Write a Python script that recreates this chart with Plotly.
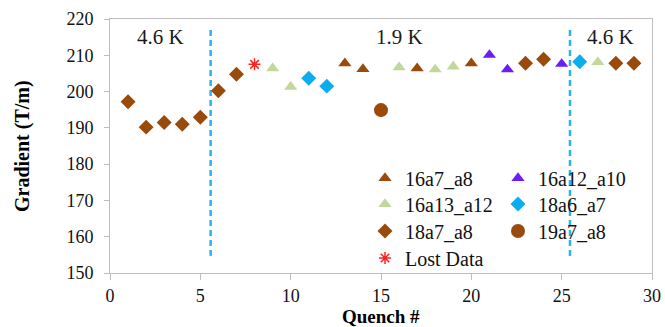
import plotly.graph_objects as go

# ---- data ----
s16a7_a8_x = [13, 14, 17, 20]
s16a7_a8_y = [207.8, 206.2, 206.4, 207.8]
s16a12_a10_x = [21, 22, 25]
s16a12_a10_y = [210.1, 206.1, 207.6]
s16a13_a12_x = [9, 10, 16, 18, 19, 27]
s16a13_a12_y = [206.4, 201.3, 206.7, 206.1, 206.9, 208.1]
s18a6_a7_x = [11, 12, 26]
s18a6_a7_y = [203.7, 201.5, 208.2]
s18a7_a8_x = [1, 2, 3, 4, 5, 6, 7, 23, 24, 28, 29]
s18a7_a8_y = [197.2, 190.2, 191.5, 191.0, 192.9, 200.2, 204.8, 207.8, 208.9, 207.8, 207.8]
s19a7_a8_x = [15]
s19a7_a8_y = [194.9]
lost_x = [8]
lost_y = [207.5]

divider_x = [5.57, 25.46]
divider_y = [217.0, 154.7]
temp_labels = ["4.6 K", "1.9 K", "4.6 K"]
temp_label_x = [2.82, 16.0, 27.7]
temp_label_y = 215.0

x_ticks = [0, 5, 10, 15, 20, 25, 30]
y_ticks = [150, 160, 170, 180, 190, 200, 210, 220]

BROWN = "#9A4A0A"
PURPLE = "#6B1CF7"
GREEN = "#C3D69B"
CYAN = "#0AAEEE"
RED = "#FF2020"
DASH = "#2AB4EE"
SERIF = "Liberation Serif"

W, H = 665, 327
ML, MR, MT, MB = 110, 13, 19, 54
PW, PH = W - ML - MR, H - MT - MB


def px_x(p):
    return (p - ML) / PW


def px_y(p):
    return (H - MB - p) / PH


fig = go.Figure()

for xv in divider_x:
    fig.add_trace(go.Scatter(x=[xv, xv], y=divider_y, mode="lines",
                             line=dict(color=DASH, width=2.5, dash="6px,4px"),
                             showlegend=False, hoverinfo="skip"))

legend_font = dict(family=SERIF, size=20, color="#111")
legend_layouts = {}


def add(name, xs, ys, symbol, color, size, legend, lx, ly, line=None):
    m = dict(symbol=symbol, color=color, size=size)
    if line:
        m["line"] = line
    fig.add_trace(go.Scatter(x=xs, y=ys, mode="markers", name=name,
                             marker=m, legend=legend))
    legend_layouts[legend] = dict(x=px_x(lx), y=px_y(ly), xanchor="left", yanchor="middle",
                                  font=legend_font, bgcolor="rgba(0,0,0,0)",
                                  itemwidth=30)


C1, C2 = 365, 498
R = [178, 204, 231, 258]
add("16a7_a8", s16a7_a8_x, s16a7_a8_y, "triangle-up", BROWN, 11.5, "legend", C1, R[0])
add("16a13_a12", s16a13_a12_x, s16a13_a12_y, "triangle-up", GREEN, 11.5, "legend2", C1, R[1])
add("18a7_a8", s18a7_a8_x, s18a7_a8_y, "diamond", BROWN, 11.5, "legend3", C1, R[2])
add("Lost Data", lost_x, lost_y, "asterisk-open", RED, 10, "legend4", C1, R[3],
    line=dict(color=RED, width=1.5))
add("16a12_a10", s16a12_a10_x, s16a12_a10_y, "triangle-up", PURPLE, 11.5, "legend5", C2, R[0])
add("18a6_a7", s18a6_a7_x, s18a6_a7_y, "diamond", CYAN, 11.5, "legend6", C2, R[1])
add("19a7_a8", s19a7_a8_x, s19a7_a8_y, "circle", BROWN, 14, "legend7", C2, R[2])

for t, xv in zip(temp_labels, temp_label_x):
    fig.add_annotation(x=xv, y=temp_label_y, text=t, showarrow=False,
                       font=dict(family=SERIF, size=21, color="#1a1a1a"),
                       xref="x", yref="y", xanchor="center", yanchor="middle")

# axis titles
fig.add_annotation(x=px_x(22), y=px_y(146), xref="paper", yref="paper",
                   text="<b>Gradient (T/m)</b>", textangle=-90, showarrow=False,
                   xanchor="center", yanchor="middle",
                   font=dict(family=SERIF, size=20, color="#000"))
fig.add_annotation(x=px_x(381), y=px_y(316), xref="paper", yref="paper",
                   text="<b>Quench #</b>", showarrow=False,
                   xanchor="center", yanchor="middle",
                   font=dict(family=SERIF, size=19, color="#000"))

axis_common = dict(showline=True, mirror=True, linecolor="#BFBFBF", linewidth=1,
                   showgrid=False, zeroline=False, ticks="outside", tickcolor="#BFBFBF",
                   automargin=False,
                   tickfont=dict(family=SERIF, size=18, color="#111"))

fig.update_xaxes(range=[0, 30], tickvals=x_ticks, ticklen=6, **axis_common)
fig.update_yaxes(range=[150, 220], tickvals=y_ticks, ticklen=5,
                 ticklabelstandoff=7, **axis_common)

fig.update_layout(
    width=W, height=H,
    margin=dict(l=ML, r=MR, t=MT, b=MB, autoexpand=False),
    paper_bgcolor="white", plot_bgcolor="white",
    showlegend=True,
    **legend_layouts,
)

fig.write_html("out.html", config={"displayModeBar": False},
               post_script="document.body.style.margin='0px';document.body.style.overflow='hidden';")
